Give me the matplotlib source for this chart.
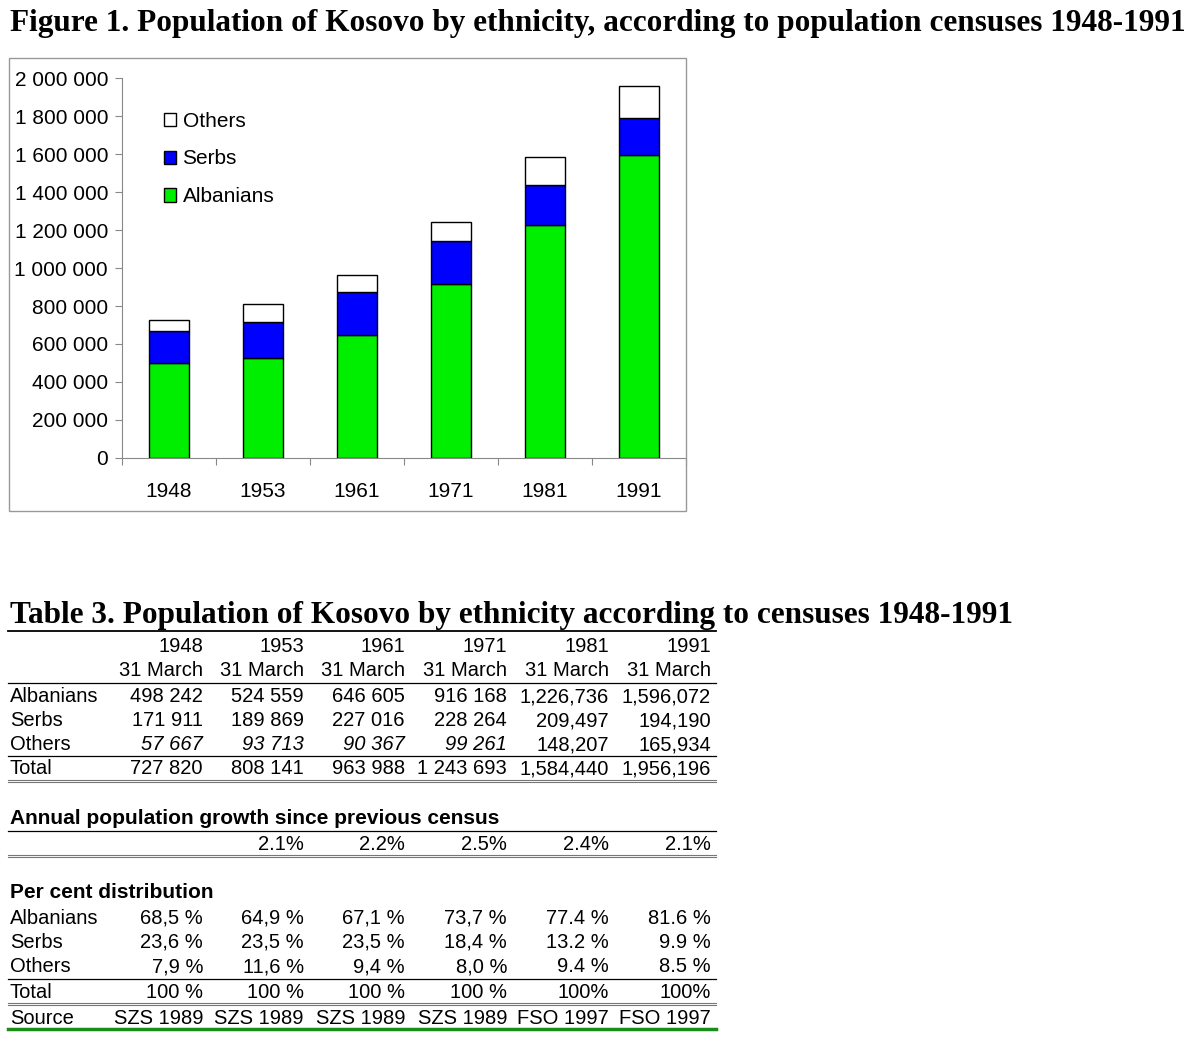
import matplotlib.pyplot as plt
import matplotlib.patches as mpatches
from matplotlib.ticker import FuncFormatter, FixedLocator
from matplotlib.lines import Line2D

plt.rcParams['font.family'] = ['Liberation Sans', 'DejaVu Sans']

# census data
years = ['1948', '1953', '1961', '1971', '1981', '1991']
albanians = [498242, 524559, 646605, 916168, 1226736, 1596072]
serbs = [171911, 189869, 227016, 228264, 209497, 194190]
others = [57667, 93713, 90367, 99261, 148207, 165934]

# table strings, as printed in the source
tbl_albanians = ['498 242', '524 559', '646 605', '916 168', '1,226,736', '1,596,072']
tbl_serbs = ['171 911', '189 869', '227 016', '228 264', '209,497', '194,190']
tbl_others = ['57 667', '93 713', '90 367', '99 261', '148,207', '165,934']
others_italic = [True, True, True, True, False, False]
tbl_total = ['727 820', '808 141', '963 988', '1 243 693', '1,584,440', '1,956,196']
growth = ['', '2.1%', '2.2%', '2.5%', '2.4%', '2.1%']
pct_albanians = ['68,5 %', '64,9 %', '67,1 %', '73,7 %', '77.4 %', '81.6 %']
pct_serbs = ['23,6 %', '23,5 %', '23,5 %', '18,4 %', '13.2 %', '9.9 %']
pct_others = ['7,9 %', '11,6 %', '9,4 %', '8,0 %', '9.4 %', '8.5 %']
pct_total = ['100 %', '100 %', '100 %', '100 %', '100%', '100%']
sources = ['SZS 1989', 'SZS 1989', 'SZS 1989', 'SZS 1989', 'FSO 1997', 'FSO 1997']

W, H = 1200, 1044
fig = plt.figure(figsize=(W / 100, H / 100), dpi=100)


def fx(x):
    return x / W


def fy(y):
    return 1 - y / H


# ---- Figure 1 ----
fig.text(fx(10), fy(24), 'Figure 1. Population of Kosovo by ethnicity, according to population censuses 1948-1991',
         family='Liberation Serif', weight='bold', fontsize=22.5, va='center', ha='left')

frame = mpatches.Rectangle((fx(9), fy(511)), fx(686) - fx(9), fy(58) - fy(511),
                           transform=fig.transFigure, fill=False, edgecolor='#999999', lw=1)
fig.patches.append(frame)

ax = fig.add_axes([fx(122), fy(458), fx(686) - fx(122), fy(78) - fy(458)])
x = range(len(years))
bw = 0.42
ax.bar(x, albanians, bw, color='#00ee00', edgecolor='black', lw=1, label='Albanians')
bot2 = [a for a in albanians]
ax.bar(x, serbs, bw, bottom=bot2, color='#0000ff', edgecolor='black', lw=1, label='Serbs')
bot3 = [a + s for a, s in zip(albanians, serbs)]
ax.bar(x, others, bw, bottom=bot3, color='white', edgecolor='black', lw=1, label='Others')

ax.set_xlim(-0.5, 5.5)
ax.set_ylim(0, 2000000)
ax.set_yticks(range(0, 2000001, 200000))
ax.yaxis.set_major_formatter(FuncFormatter(lambda v, p: f'{int(v):,}'.replace(',', ' ')))
ax.xaxis.set_major_locator(FixedLocator([i - 0.5 for i in range(7)]))
ax.xaxis.set_minor_locator(FixedLocator(list(x)))
ax.set_xticklabels([''] * 7)
ax.set_xticklabels(years, minor=True)
ax.tick_params(axis='x', which='minor', length=0, labelsize=15, pad=17)
ax.tick_params(axis='x', which='major', length=5, color='#888888')
ax.tick_params(axis='y', length=5, color='#888888', labelsize=15, pad=5)
for s in ['top', 'right']:
    ax.spines[s].set_visible(False)
for s in ['left', 'bottom']:
    ax.spines[s].set_color('#888888')
ax.patch.set_alpha(0)

h, l = ax.get_legend_handles_labels()
ax.legend(h[::-1], l[::-1], loc='upper left', bbox_to_anchor=(fx(145), fy(93)),
          bbox_transform=fig.transFigure, frameon=False, fontsize=15,
          handlelength=0.6, handleheight=0.6, handletextpad=0.3, labelspacing=0.9)

# ---- Table 3 ----
fig.text(fx(10), fy(616), 'Table 3. Population of Kosovo by ethnicity according to censuses 1948-1991',
         family='Liberation Serif', weight='bold', fontsize=22.5, va='center', ha='left')

col_x = [203, 304, 405, 507, 609, 711]
fs = 14.5


def row(y, label, vals, italic=None, weight='normal'):
    if label:
        fig.text(fx(10), fy(y), label, fontsize=fs, va='center', ha='left', weight=weight)
    for i, v in enumerate(vals):
        st = 'italic' if italic and italic[i] else 'normal'
        fig.text(fx(col_x[i]), fy(y), v, fontsize=fs, va='center', ha='right', style=st)


def hline(y, color='black', lw=1.0, double=False):
    if double:
        for dy in (-1.2, 1.2):
            fig.add_artist(Line2D([fx(8), fx(716)], [fy(y + dy)] * 2, color=color, lw=0.8))
    else:
        fig.add_artist(Line2D([fx(8), fx(716)], [fy(y)] * 2, color=color, lw=lw))


hline(631, lw=1.3)
row(647, '', years)
row(671, '', ['31 March'] * 6)
hline(683, lw=0.9)
row(697, 'Albanians', tbl_albanians)
row(721, 'Serbs', tbl_serbs)
row(745, 'Others', tbl_others, italic=others_italic)
hline(756, lw=0.9)
row(769, 'Total', tbl_total)
hline(781, color='#777777', double=True)

fig.text(fx(10), fy(819), 'Annual population growth since previous census', fontsize=15,
         weight='bold', va='center', ha='left')
hline(831, lw=0.9)
row(845, '', growth)
hline(856, color='#777777', double=True)

fig.text(fx(10), fy(893), 'Per cent distribution', fontsize=15, weight='bold', va='center', ha='left')
row(918, 'Albanians', pct_albanians)
row(942, 'Serbs', pct_serbs)
row(967, 'Others', pct_others)
hline(979, lw=0.9)
row(992, 'Total', pct_total)
hline(1004, color='#777777', double=True)
row(1018, 'Source', sources)
hline(1029, color='#1a8c1a', lw=2.5)

fig.savefig('out.png', dpi=100)
